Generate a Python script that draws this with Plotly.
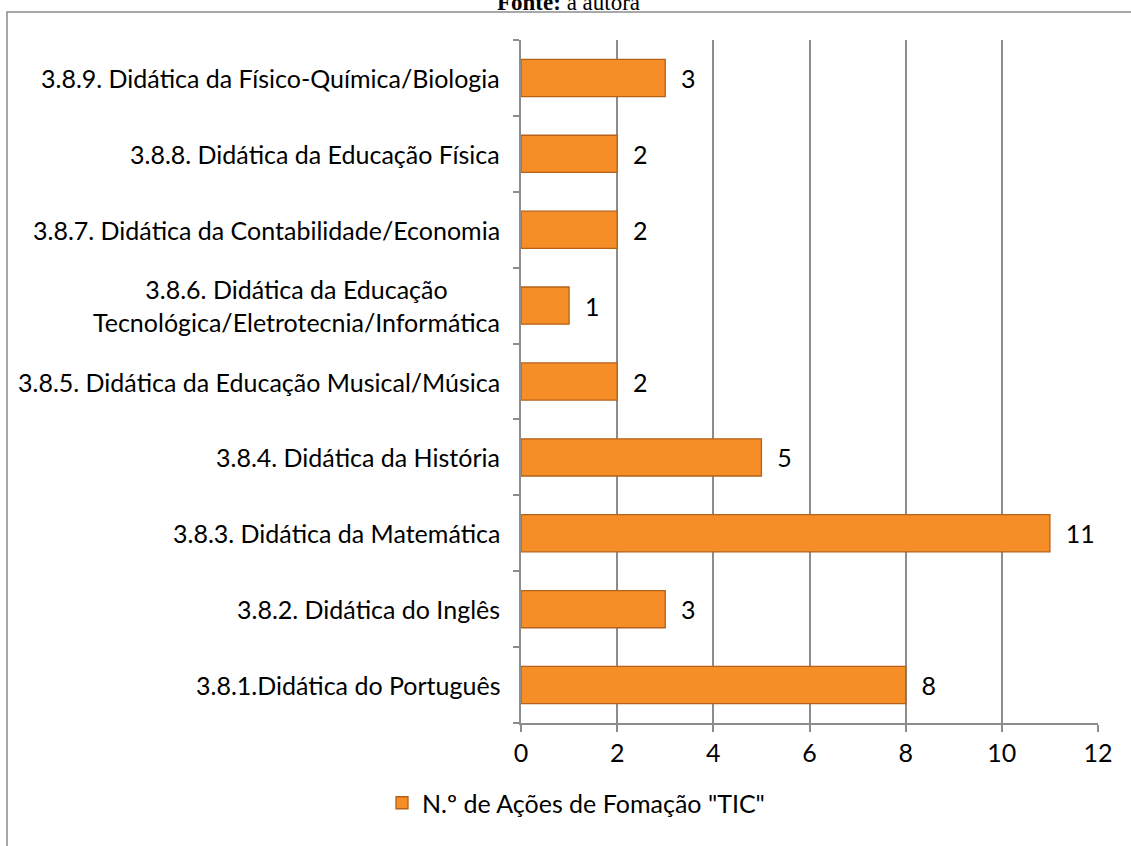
import plotly.graph_objects as go

categories = [
    "3.8.1.Didática do Português",
    "3.8.2. Didática do Inglês",
    "3.8.3. Didática da Matemática",
    "3.8.4. Didática da História",
    "3.8.5. Didática da Educação Musical/Música",
    "3.8.6. Didática da Educação<br>Tecnológica/Eletrotecnia/Informática",
    "3.8.7. Didática da Contabilidade/Economia",
    "3.8.8. Didática da Educação Física",
    "3.8.9. Didática da Físico-Química/Biologia",
]
values = [8, 3, 11, 5, 2, 1, 2, 2, 3]
series_name = 'N.º de Ações de Fomação "TIC"'
x_ticks = [0, 2, 4, 6, 8, 10, 12]

FONT = "Lato"
FS = 25
W, H = 1131, 846
L, R, T, B = 521, 33, 40, 123
pw, ph = W - L - R, H - T - B

fig = go.Figure()
fig.add_trace(go.Bar(
    y=categories, x=values, orientation="h", name=series_name,
    marker=dict(color="#F68E27", line=dict(color="#B5611A", width=1.3)),
    text=values, texttemplate="  %{x}", textposition="outside",
    textfont=dict(family=FONT, size=FS, color="#000"),
    cliponaxis=False,
))

for c in categories:
    fig.add_annotation(x=0, y=c, xref="x", yref="y", text=c, showarrow=False,
                       xanchor="right", align="center", xshift=-19,
                       font=dict(family=FONT, size=FS, color="#000"))

# outer frame
fig.add_shape(type="rect", xref="paper", yref="paper",
              x0=(7 - L) / pw, x1=(W + 10 - L) / pw,
              y0=(H - B - (H + 10)) / ph, y1=(H - B - 12) / ph,
              line=dict(color="#8C8C8C", width=1.5), fillcolor="rgba(0,0,0,0)", layer="below")

fig.add_annotation(xref="paper", yref="paper", x=(568 - L) / pw, y=(H - B - 17) / ph,
                   xanchor="center", yanchor="bottom", showarrow=False,
                   text="<b>Fonte:</b> a autora",
                   font=dict(family="Liberation Serif", size=23, color="#000"))

fig.update_layout(
    width=W, height=H,
    margin=dict(l=L, r=R, t=T, b=B, pad=0),
    paper_bgcolor="white", plot_bgcolor="white",
    bargap=0.51,
    showlegend=True,
    legend=dict(orientation="h", x=(576 - L) / pw, xanchor="center",
                y=(H - B - 803) / ph, yanchor="middle",
                font=dict(family=FONT, size=FS, color="#000")),
    xaxis=dict(range=[0, 12], tickvals=x_ticks, ticktext=[str(v) for v in x_ticks],
               showgrid=True, gridcolor="#8C8C8C", gridwidth=1.5,
               showline=True, linecolor="#8C8C8C", linewidth=1.5,
               ticks="outside", ticklen=7, tickcolor="#8C8C8C", tickwidth=1.5,
               tickfont=dict(family=FONT, size=FS, color="#000"),
               zeroline=False, fixedrange=True),
    yaxis=dict(categoryorder="array", categoryarray=categories,
               showticklabels=False, showgrid=False,
               showline=True, linecolor="#8C8C8C", linewidth=1.5,
               ticks="outside", ticklen=6, tickcolor="#8C8C8C", tickwidth=1.5,
               tickson="boundaries", fixedrange=True),
)

fig.write_html("out.html", config={"displayModeBar": False},
               post_script="document.body.style.margin='0px';")
